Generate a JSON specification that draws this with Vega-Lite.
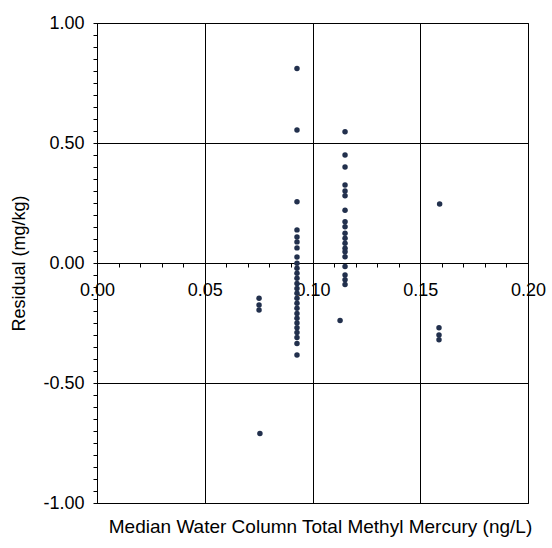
{
  "$schema": "https://vega.github.io/schema/vega-lite/v6.json",
  "width": 431,
  "height": 480,
  "autosize": {"type": "none"},
  "padding": {"left": 97, "top": 23, "right": 24, "bottom": 45},
  "background": "white",
  "title": {
    "text": "Median Water Column Total Methyl Mercury (ng/L)",
    "orient": "bottom",
    "anchor": "middle",
    "fontSize": 19,
    "fontWeight": "normal",
    "font": "Liberation Sans",
    "color": "black",
    "offset": 6,
    "dx": 8
  },
  "config": {
    "font": "Liberation Sans",
    "view": {"stroke": "black", "strokeWidth": 1}
  },
  "data": {
    "values": [
      {"median": 0.0928, "residual": 0.81},
      {"median": 0.0928, "residual": 0.554},
      {"median": 0.0928, "residual": 0.255},
      {"median": 0.0928, "residual": 0.138},
      {"median": 0.0928, "residual": 0.108},
      {"median": 0.0928, "residual": 0.088},
      {"median": 0.0928, "residual": 0.063},
      {"median": 0.0928, "residual": 0.025},
      {"median": 0.0928, "residual": -0.001},
      {"median": 0.0928, "residual": -0.022},
      {"median": 0.0928, "residual": -0.043},
      {"median": 0.0928, "residual": -0.064},
      {"median": 0.0928, "residual": -0.085},
      {"median": 0.0928, "residual": -0.106},
      {"median": 0.0928, "residual": -0.126},
      {"median": 0.0928, "residual": -0.147},
      {"median": 0.0928, "residual": -0.168},
      {"median": 0.0928, "residual": -0.189},
      {"median": 0.0928, "residual": -0.21},
      {"median": 0.0928, "residual": -0.23},
      {"median": 0.0928, "residual": -0.25},
      {"median": 0.0928, "residual": -0.27},
      {"median": 0.0928, "residual": -0.29},
      {"median": 0.0928, "residual": -0.31},
      {"median": 0.0928, "residual": -0.335},
      {"median": 0.0928, "residual": -0.383},
      {"median": 0.1151, "residual": 0.547},
      {"median": 0.1151, "residual": 0.45},
      {"median": 0.1151, "residual": 0.40},
      {"median": 0.1151, "residual": 0.325},
      {"median": 0.1151, "residual": 0.30},
      {"median": 0.1151, "residual": 0.28},
      {"median": 0.1151, "residual": 0.22},
      {"median": 0.1151, "residual": 0.172},
      {"median": 0.1151, "residual": 0.151},
      {"median": 0.1151, "residual": 0.124},
      {"median": 0.1151, "residual": 0.103},
      {"median": 0.1151, "residual": 0.082},
      {"median": 0.1151, "residual": 0.061},
      {"median": 0.1151, "residual": 0.047},
      {"median": 0.1151, "residual": 0.026},
      {"median": 0.1151, "residual": -0.015},
      {"median": 0.1151, "residual": -0.05},
      {"median": 0.1151, "residual": -0.07},
      {"median": 0.1151, "residual": -0.09},
      {"median": 0.1128, "residual": -0.24},
      {"median": 0.0752, "residual": -0.147},
      {"median": 0.0752, "residual": -0.175},
      {"median": 0.0752, "residual": -0.196},
      {"median": 0.0756, "residual": -0.71},
      {"median": 0.159, "residual": 0.246},
      {"median": 0.1587, "residual": -0.27},
      {"median": 0.1587, "residual": -0.30},
      {"median": 0.1587, "residual": -0.32}
    ]
  },
  "mark": {"type": "circle", "size": 30, "color": "#22304d", "opacity": 1},
  "encoding": {
    "x": {
      "field": "median",
      "type": "quantitative",
      "scale": {"domain": [0, 0.2], "nice": false, "zero": false},
      "axis": {
        "title": null,
        "offset": -240,
        "values": [0, 0.01, 0.02, 0.03, 0.04, 0.05, 0.06, 0.07, 0.08, 0.09, 0.1, 0.11, 0.12, 0.13, 0.14, 0.15, 0.16, 0.17, 0.18, 0.19, 0.2],
        "labelExpr": "abs(datum.value*20 - round(datum.value*20)) < 0.001 ? format(datum.value, '.2f') : ''",
        "labelOverlap": false,
        "labelBound": false,
        "labelFlush": false,
        "labelFontSize": 18,
        "labelColor": "black",
        "labelPadding": 14,
        "domainColor": "black",
        "domainWidth": 1,
        "tickColor": "black",
        "tickSize": 4,
        "grid": true,
        "gridColor": "black",
        "gridWidth": 1,
        "gridOpacity": {"condition": {"test": "abs(datum.value*20 - round(datum.value*20)) < 0.001", "value": 1}, "value": 0}
      }
    },
    "y": {
      "field": "residual",
      "type": "quantitative",
      "scale": {"domain": [-1, 1], "nice": false, "zero": false},
      "axis": {
        "title": "Residual (mg/kg)",
        "titleFontSize": 18,
        "titleFontWeight": "normal",
        "titleColor": "black",
        "titlePadding": 14,
        "values": [-1, -0.95, -0.9, -0.85, -0.8, -0.75, -0.7, -0.65, -0.6, -0.55, -0.5, -0.45, -0.4, -0.35, -0.3, -0.25, -0.2, -0.15, -0.1, -0.05, 0, 0.05, 0.1, 0.15, 0.2, 0.25, 0.3, 0.35, 0.4, 0.45, 0.5, 0.55, 0.6, 0.65, 0.7, 0.75, 0.8, 0.85, 0.9, 0.95, 1],
        "labelExpr": "abs(datum.value*2 - round(datum.value*2)) < 0.001 ? replace(format(datum.value, '.2f'), '−', '-') : ''",
        "labelOverlap": false,
        "labelBound": false,
        "labelFlush": false,
        "labelFontSize": 18,
        "labelColor": "black",
        "labelPadding": 9,
        "domainColor": "black",
        "tickColor": "black",
        "tickSize": 4,
        "grid": true,
        "gridColor": "black",
        "gridWidth": 1,
        "gridOpacity": {"condition": {"test": "abs(datum.value*2 - round(datum.value*2)) < 0.001", "value": 1}, "value": 0}
      }
    }
  }
}
